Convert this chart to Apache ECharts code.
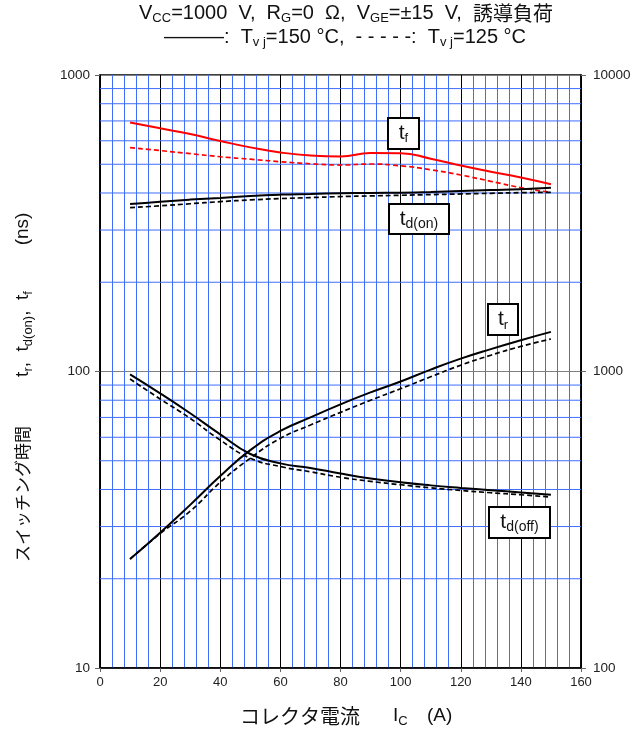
<!DOCTYPE html>
<html><head><meta charset="utf-8">
<script src="https://cdn.jsdelivr.net/npm/echarts@6/dist/echarts.min.js"></script>
<style>html,body{margin:0;padding:0;background:#fff}#c{width:637px;height:731px}</style>
</head><body><div id="c"></div>
<script>
// ---- data ----
const ic = [10,20,30,40,50,60,70,80,90,100,110,120,130,140,150];
const tf150   = [692,661,632,599,570,548,535,531,546,545,522,495,472,451,428];
const tf125   = [569,556,543,530,520,510,502,497,501,494,479,460,438,417,402];
const tdon150 = [367,374,380,385,391,395,397,399,400,401,403,406,409,412,417];
const tdon125 = [357,362,368,374,379,383,386,389,391,393,395,397,399,401,402];
const tr150   = [23.3,28.6,35.5,44.4,54.3,63,70,77.5,85,92.5,101.5,110.5,119,127.5,136];
const tr125   = [23.3,28.4,33.8,42.3,51,59.5,66,72.8,80,87.5,96,105,113.5,121.5,128.7];
const tdoff150= [97.8,84.4,72.3,61.4,52.7,49,47.3,45.3,43.6,42.3,41.3,40.5,39.8,39.1,38.4];
const tdoff125= [94.3,80.8,69.5,58.7,51,47.8,45.9,44,42.6,41.5,40.5,39.7,39,38.4,37.7];
const xRange = [0,160];
const leftRange = [10,1000];
const rightRange = [100,10000];

const LAT = '"Liberation Sans", Arial, sans-serif';
const JP = '"Noto Sans CJK JP", sans-serif';
const BLUE = '#3f6eff';

// minor horizontal grid values for the log axis (2..9 per decade)
const yMinor = [];
for (let d = leftRange[0]; d < leftRange[1]; d *= 10) {
  for (let k = 2; k <= 9; k++) yMinor.push(d * k);
}

const pairs = arr => arr.map((v, i) => [ic[i], v]);
function lineSeries(arr, color, dashed) {
  return {
    type: 'line', data: pairs(arr), showSymbol: false, smooth: 0.5,
    silent: true, z: 5, color: color,
    lineStyle: { color: color, width: dashed ? 1.7 : 2, type: dashed ? [5, 3] : 'solid' }
  };
}
function hLine(v, color) {
  return { type: 'line', data: [[xRange[0], v], [xRange[1], v]], showSymbol: false, silent: true,
    z: 1, color: color, lineStyle: { color: color, width: 1, type: 'solid' } };
}

const chart = echarts.init(document.getElementById('c'));
const subStyle = (fs) => ({ fontSize: fs, fontFamily: LAT, fill: '#111', verticalAlign: 'bottom', lineHeight: fs });
chart.setOption({
  animation: false,
  backgroundColor: '#fff',
  grid: { left: 100, right: 56, top: 75, bottom: 63, show: true, borderColor: '#000', borderWidth: 1.5, backgroundColor: 'transparent' },
  xAxis: {
    type: 'value', min: xRange[0], max: xRange[1], interval: 20,
    axisLine: { show: true, lineStyle: { color: '#000', width: 1.5 } },
    axisTick: { show: true, length: 4, lineStyle: { color: '#666' } },
    axisLabel: { fontSize: 13, fontFamily: LAT, color: '#222', margin: 8 },
    splitLine: { show: true, lineStyle: { color: '#000', width: 1 } },
    minorTick: { show: false, splitNumber: 5 },
    minorSplitLine: { show: true, lineStyle: { color: BLUE, width: 1 } }
  },
  yAxis: [{
    type: 'log', logBase: 10, min: leftRange[0], max: leftRange[1], position: 'left',
    axisLine: { show: true, lineStyle: { color: '#000', width: 1.5 } },
    axisTick: { show: true, length: 5, lineStyle: { color: '#666' } },
    axisLabel: { fontSize: 13.5, fontFamily: LAT, color: '#222', margin: 10, formatter: v => String(Math.round(v)) },
    splitLine: { show: true, lineStyle: { color: '#808080', width: 1 } }
  }, {
    type: 'log', logBase: 10, min: rightRange[0], max: rightRange[1], position: 'right',
    axisLine: { show: true, lineStyle: { color: '#000', width: 1.5 } },
    axisTick: { show: true, length: 5, lineStyle: { color: '#666' } },
    axisLabel: { fontSize: 13.5, fontFamily: LAT, color: '#222', margin: 12, formatter: v => String(Math.round(v)) },
    splitLine: { show: false }
  }],
  series: yMinor.map(v => hLine(v, BLUE)).concat([
    lineSeries(tf150, '#ff0000', false),
    lineSeries(tf125, '#ff0000', true),
    lineSeries(tdon150, '#000', false),
    lineSeries(tdon125, '#000', true),
    lineSeries(tr150, '#000', false),
    lineSeries(tr125, '#000', true),
    lineSeries(tdoff150, '#000', false),
    lineSeries(tdoff125, '#000', true)
  ]),
  graphic: [
    // title lines
    { type: 'text', x: 346, y: 13, z: 10, style: {
      text: 'V{s|CC}=1000  V,  R{s|G}=0  Ω,  V{s|GE}=±15  V,  {j|誘導負荷}',
      align: 'center', verticalAlign: 'middle', fontSize: 20, fontFamily: LAT, fill: '#111', lineHeight: 24,
      rich: { s: subStyle(13), j: { fontSize: 20, fontFamily: JP, fill: '#111' } } } },
    { type: 'text', x: 345, y: 37, z: 10, style: {
      text: '———:  T{s|v j}=150 °C,  - - - - -:  T{s|v j}=125 °C',
      align: 'center', verticalAlign: 'middle', fontSize: 20, fontFamily: LAT, fill: '#111', lineHeight: 24,
      rich: { s: subStyle(13) } } },
    // curve labels
    { type: 'rect', z: 10, shape: { x: 388, y: 118, width: 31, height: 31 }, style: { fill: '#fff', stroke: '#000', lineWidth: 2 } },
    { type: 'text', z: 11, x: 403.5, y: 133, style: { text: 't{s|f}', align: 'center', verticalAlign: 'middle', fontSize: 21, fontFamily: LAT, fill: '#111', lineHeight: 24, rich: { s: subStyle(13) } } },
    { type: 'rect', z: 10, shape: { x: 389, y: 204, width: 60, height: 30 }, style: { fill: '#fff', stroke: '#000', lineWidth: 2 } },
    { type: 'text', z: 11, x: 419, y: 219, style: { text: 't{s|d(on)}', align: 'center', verticalAlign: 'middle', fontSize: 21, fontFamily: LAT, fill: '#111', lineHeight: 24, rich: { s: subStyle(14) } } },
    { type: 'rect', z: 10, shape: { x: 488, y: 304, width: 30, height: 31 }, style: { fill: '#fff', stroke: '#000', lineWidth: 2 } },
    { type: 'text', z: 11, x: 503, y: 319.5, style: { text: 't{s|r}', align: 'center', verticalAlign: 'middle', fontSize: 21, fontFamily: LAT, fill: '#111', lineHeight: 24, rich: { s: subStyle(13) } } },
    { type: 'rect', z: 10, shape: { x: 489, y: 507, width: 61, height: 31 }, style: { fill: '#fff', stroke: '#000', lineWidth: 2 } },
    { type: 'text', z: 11, x: 519.5, y: 522.5, style: { text: 't{s|d(off)}', align: 'center', verticalAlign: 'middle', fontSize: 21, fontFamily: LAT, fill: '#111', lineHeight: 24, rich: { s: subStyle(14) } } },
    // x axis title
    { type: 'text', z: 10, x: 240, y: 716, style: { text: 'コレクタ電流', align: 'left', verticalAlign: 'middle', fontSize: 20, fontFamily: JP, fill: '#111' } },
    { type: 'text', z: 10, x: 393, y: 716, style: { text: 'I{s|C}', align: 'left', verticalAlign: 'middle', fontSize: 19, fontFamily: LAT, fill: '#111', lineHeight: 24, rich: { s: subStyle(13) } } },
    { type: 'text', z: 10, x: 427, y: 716, style: { text: '(A)', align: 'left', verticalAlign: 'middle', fontSize: 19, fontFamily: LAT, fill: '#111' } },
    // y axis title (rotated)
    { type: 'text', z: 10, x: 23, y: 494, rotation: Math.PI / 2, style: { text: 'スイッチング時間', align: 'center', verticalAlign: 'middle', fontSize: 17, fontFamily: JP, fill: '#111' } },
    { type: 'text', z: 10, x: 23, y: 334, rotation: Math.PI / 2, style: { text: 't{s|r},  t{s|d(on)},  t{s|f}', align: 'center', verticalAlign: 'middle', fontSize: 19, fontFamily: LAT, fill: '#111', lineHeight: 24, rich: { s: subStyle(13) } } },
    { type: 'text', z: 10, x: 23, y: 229, rotation: Math.PI / 2, style: { text: '(ns)', align: 'center', verticalAlign: 'middle', fontSize: 19, fontFamily: LAT, fill: '#111' } }
  ]
});
</script>
</body></html>
